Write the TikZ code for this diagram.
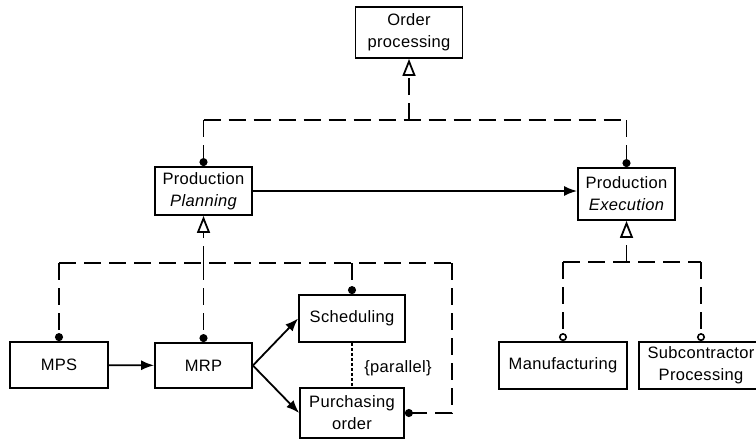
\documentclass[tikz,border=0pt]{standalone}
\usepackage{fontspec}
\setmainfont{Liberation Sans}[LetterSpace=2]
\usetikzlibrary{arrows.meta}
\begin{document}
\begin{tikzpicture}[x=1pt,y=-1pt,
  box/.style={draw,line width=1.8pt,inner sep=0pt,align=center,
    font=\fontsize{16.5}{22}\selectfont},
  dep/.style={line width=1.8pt,dash pattern=on 17pt off 8pt},
  flow/.style={line width=1.8pt,-{Latex[length=13pt,width=10pt]}},
  gen/.style={-{Triangle[open,length=17pt,width=13pt,line width=1.8pt]}},
  dotend/.style={-{Circle[length=8pt]}},
  ringend/.style={-{Circle[open,length=8pt,line width=1.6pt]}}]
\useasboundingbox (0,0) rectangle (756,440);
\begin{scope}
\clip (0,0) rectangle (756,440);
% nodes
\node[box,minimum width=107pt,minimum height=51pt] (op) at (409,32.5) {Order\\processing};
\node[box,minimum width=97pt,minimum height=48pt] (pp) at (203.5,191) {Production\\\itshape Planning};
\node[box,minimum width=97pt,minimum height=52pt] (pe) at (626.5,194) {Production\\\itshape Execution};
\node[box,minimum width=98pt,minimum height=46pt] (mps) at (59,365) {MPS};
\node[box,minimum width=97pt,minimum height=45pt] (mrp) at (203.5,365.5) {MRP};
\node[box,minimum width=106pt,minimum height=47pt] (sch) at (352,318.5) {Scheduling};
\node[box,minimum width=104pt,minimum height=50pt] (pur) at (352,413) {Purchasing\\order};
\node[box,minimum width=128pt,minimum height=47pt] (man) at (563,365.5) {Manufacturing};
\node[box,minimum width=124pt,minimum height=47pt] (sub) at (701,365.5) {Subcontractor\\Processing};
\node[font=\fontsize{16.5}{22}\selectfont] (par) at (398,368) {\{parallel\}};
% junction coordinates
\coordinate (j1) at (409,120);
\coordinate (j2) at (203.5,263);
\coordinate (c3) at (452,263);
\coordinate (j3) at (626.5,262);
% top level
\draw[dep,gen] (j1) -- (op.south);
\draw[dep] (pp.north|-j1) -- (pe.north|-j1);
\draw[dep,dotend] (pp.north|-j1) -- (pp.north);
\draw[dep,dotend] (pe.north|-j1) -- (pe.north);
\draw[flow] (pp.east) -- (pp.east-|pe.west);
% planning group
\draw[dep,gen] (j2) -- (pp.south);
\draw[dep] (mps.north|-j2) -- (c3);
\draw[dep,dotend] (mps.north|-j2) -- (mps.north);
\draw[dep,dotend] (j2) -- (mrp.north);
\draw[dep,dotend] (sch.north|-j2) -- (sch.north);
\draw[dep,dotend] (c3) |- (pur.east);
\draw[flow] (mps) -- (mrp);
\draw[flow] (mrp.east) -- (sch.west);
\draw[flow] (mrp.east) -- (pur.west);
\draw[line width=1.2pt,dash pattern=on 3pt off 2pt] (sch.south) -- (pur.north);
% execution group
\draw[dep,gen] (j3) -- (pe.south);
\draw[dep] (man.north|-j3) -- (sub.north|-j3);
\draw[dep,ringend] (man.north|-j3) -- (man.north);
\draw[dep,ringend] (sub.north|-j3) -- (sub.north);
\end{scope}
\end{tikzpicture}
\end{document}
